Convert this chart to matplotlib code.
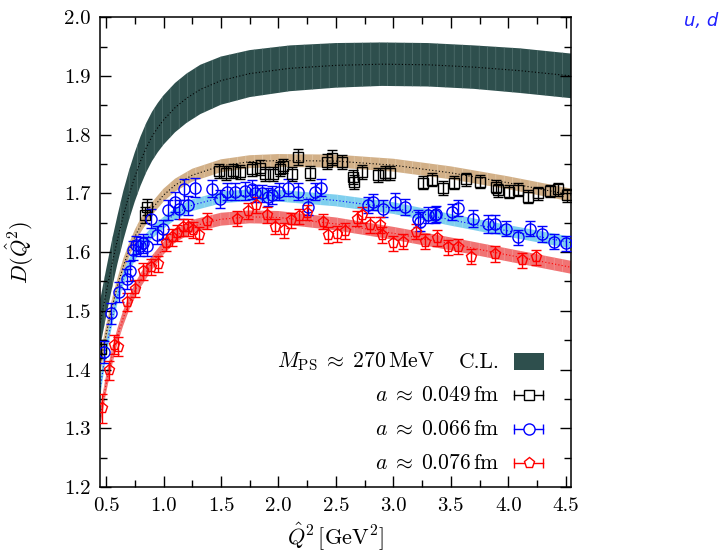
import matplotlib
matplotlib.use('Agg')
import matplotlib.pyplot as plt
import numpy as np

plt.rcParams['font.family'] = 'serif'
plt.rcParams['font.serif'] = ['cmr10']
plt.rcParams['mathtext.fontset'] = 'cm'
plt.rcParams['axes.formatter.use_mathtext'] = True
plt.rcParams['hatch.linewidth'] = 0.4

# continuum-limit band (centre and half width)
cl_q2 = [0.45, 0.50, 0.55, 0.60, 0.65, 0.70, 0.75, 0.80, 0.85, 0.90, 0.95, 1.00,
         1.10, 1.20, 1.32, 1.50, 1.75, 2.10, 2.50, 2.90, 3.30, 3.70, 4.10, 4.55]
cl_mid = [1.480, 1.530, 1.578, 1.622, 1.662, 1.697, 1.728, 1.755, 1.778, 1.797, 1.812, 1.825,
          1.846, 1.862, 1.877, 1.892, 1.904, 1.913, 1.918, 1.920, 1.919, 1.915, 1.909, 1.900]
cl_err = [0.040, 0.040, 0.041, 0.041, 0.042, 0.042, 0.042, 0.042, 0.042, 0.042, 0.042, 0.042,
          0.042, 0.042, 0.042, 0.041, 0.040, 0.039, 0.038, 0.037, 0.037, 0.037, 0.038, 0.038]

# fit bands for each lattice spacing
fit_q2 = [0.45, 0.50, 0.55, 0.60, 0.65, 0.70, 0.75, 0.80, 0.90, 1.00, 1.10, 1.25,
          1.50, 1.75, 2.00, 2.50, 3.00, 3.50, 4.00, 4.55]
fit049_mid = [1.410, 1.460, 1.505, 1.543, 1.576, 1.603, 1.626, 1.645, 1.674, 1.697, 1.714, 1.731,
              1.747, 1.754, 1.756, 1.755, 1.748, 1.735, 1.718, 1.697]
fit066_mid = [1.370, 1.435, 1.485, 1.525, 1.555, 1.578, 1.596, 1.611, 1.633, 1.650, 1.665, 1.680,
              1.693, 1.697, 1.696, 1.688, 1.675, 1.655, 1.636, 1.616]
fit076_mid = [1.320, 1.375, 1.420, 1.458, 1.488, 1.513, 1.534, 1.552, 1.582, 1.607, 1.627, 1.644,
              1.656, 1.660, 1.659, 1.648, 1.632, 1.614, 1.595, 1.574]
fit049_err = [0.016, 0.015, 0.014, 0.013, 0.013, 0.012, 0.012, 0.012, 0.011, 0.011, 0.011, 0.011,
              0.011, 0.011, 0.011, 0.011, 0.011, 0.011, 0.011, 0.011]
fit066_err = [0.015, 0.014, 0.013, 0.012, 0.012, 0.011, 0.011, 0.010, 0.010, 0.010, 0.010, 0.010,
              0.010, 0.010, 0.010, 0.010, 0.010, 0.010, 0.010, 0.010]
fit076_err = [0.016, 0.015, 0.014, 0.013, 0.013, 0.012, 0.012, 0.012, 0.012, 0.011, 0.011, 0.011,
              0.011, 0.011, 0.011, 0.011, 0.011, 0.011, 0.011, 0.011]

# a = 0.049 fm
q2_049 = [0.457, 0.84, 0.86, 1.485, 1.541, 1.607, 1.665, 1.767, 1.839, 1.883, 1.955, 2.013,
          2.042, 2.115, 2.173, 2.274, 2.419, 2.462, 2.549, 2.650, 2.660, 2.723, 2.868, 2.926,
          2.970, 3.259, 3.340, 3.433, 3.526, 3.630, 3.752, 3.897, 3.910, 4.007, 4.085, 4.172,
          4.259, 4.360, 4.433, 4.511]
d_049 = [1.435, 1.663, 1.677, 1.738, 1.735, 1.738, 1.737, 1.742, 1.744, 1.733, 1.733, 1.742,
         1.746, 1.733, 1.762, 1.735, 1.754, 1.761, 1.754, 1.728, 1.720, 1.737, 1.731, 1.734,
         1.735, 1.718, 1.723, 1.709, 1.718, 1.724, 1.720, 1.711, 1.705, 1.703, 1.706, 1.694,
         1.700, 1.704, 1.707, 1.697]
e_049 = [0.016, 0.013, 0.014, 0.012, 0.012, 0.012, 0.012, 0.012, 0.013, 0.012, 0.012, 0.012,
         0.012, 0.012, 0.013, 0.012, 0.013, 0.013, 0.012, 0.012, 0.012, 0.012, 0.012, 0.012,
         0.012, 0.011, 0.011, 0.012, 0.011, 0.011, 0.011, 0.011, 0.011, 0.011, 0.011, 0.011,
         0.011, 0.011, 0.011, 0.011]

# a = 0.066 fm
q2_066 = [0.485, 0.540, 0.616, 0.680, 0.709, 0.738, 0.761, 0.796, 0.825, 0.854, 0.889, 0.946,
          0.999, 1.042, 1.100, 1.137, 1.178, 1.216, 1.274, 1.419, 1.491, 1.549, 1.622, 1.709,
          1.767, 1.796, 1.854, 1.911, 1.940, 2.007, 2.085, 2.172, 2.259, 2.317, 2.367, 2.781,
          2.825, 2.912, 3.013, 3.100, 3.216, 3.230, 3.303, 3.361, 3.375, 3.506, 3.564, 3.694,
          3.825, 3.883, 3.984, 4.085, 4.187, 4.289, 4.396, 4.506]
d_066 = [1.430, 1.496, 1.532, 1.555, 1.568, 1.603, 1.612, 1.610, 1.615, 1.610, 1.657, 1.629,
         1.639, 1.671, 1.685, 1.673, 1.707, 1.680, 1.710, 1.708, 1.690, 1.703, 1.703, 1.704,
         1.707, 1.700, 1.700, 1.694, 1.697, 1.703, 1.710, 1.703, 1.677, 1.703, 1.710, 1.680,
         1.685, 1.674, 1.686, 1.677, 1.657, 1.652, 1.663, 1.663, 1.665, 1.668, 1.675, 1.657,
         1.648, 1.648, 1.640, 1.625, 1.640, 1.631, 1.618, 1.615]
e_066 = [0.018, 0.018, 0.017, 0.017, 0.017, 0.016, 0.016, 0.016, 0.016, 0.016, 0.016, 0.016,
         0.016, 0.017, 0.017, 0.016, 0.018, 0.016, 0.016, 0.015, 0.015, 0.015, 0.015, 0.015,
         0.016, 0.015, 0.015, 0.015, 0.015, 0.015, 0.015, 0.015, 0.014, 0.014, 0.014, 0.014,
         0.014, 0.014, 0.014, 0.014, 0.014, 0.016, 0.014, 0.014, 0.014, 0.014, 0.014, 0.014,
         0.015, 0.015, 0.013, 0.013, 0.013, 0.013, 0.013, 0.013]

# a = 0.076 fm
q2_076 = [0.463, 0.526, 0.572, 0.607, 0.680, 0.752, 0.825, 0.889, 0.955, 1.022, 1.071, 1.120,
          1.172, 1.216, 1.259, 1.311, 1.381, 1.636, 1.737, 1.803, 1.896, 1.969, 2.047, 2.106,
          2.181, 2.245, 2.384, 2.433, 2.512, 2.578, 2.680, 2.723, 2.796, 2.883, 2.897, 2.998,
          3.085, 3.196, 3.274, 3.381, 3.477, 3.564, 3.671, 3.883, 4.115, 4.239]
d_076 = [1.334, 1.399, 1.442, 1.439, 1.515, 1.538, 1.567, 1.575, 1.580, 1.616, 1.625, 1.633,
         1.642, 1.642, 1.638, 1.629, 1.653, 1.657, 1.670, 1.680, 1.663, 1.643, 1.637, 1.654,
         1.661, 1.667, 1.652, 1.629, 1.631, 1.636, 1.657, 1.663, 1.646, 1.646, 1.629, 1.615,
         1.618, 1.635, 1.618, 1.624, 1.608, 1.609, 1.592, 1.597, 1.586, 1.591]
e_076 = [0.025, 0.016, 0.016, 0.016, 0.015, 0.014, 0.014, 0.014, 0.014, 0.014, 0.014, 0.014,
         0.014, 0.014, 0.014, 0.014, 0.013, 0.013, 0.013, 0.013, 0.013, 0.013, 0.013, 0.013,
         0.013, 0.013, 0.013, 0.013, 0.013, 0.013, 0.013, 0.013, 0.013, 0.013, 0.013, 0.013,
         0.013, 0.013, 0.013, 0.013, 0.013, 0.013, 0.013, 0.013, 0.013, 0.013]

fig = plt.figure(figsize=(7.2, 5.55), dpi=100)
ax = fig.add_axes([0.139, 0.1225, 0.654, 0.8465])


def band(q2, mid, err, face, stripe, line):
    q2 = np.array(q2)
    mid = np.array(mid)
    err = np.array(err)
    ax.fill_between(q2, mid - err, mid + err, facecolor=face, edgecolor=stripe,
                    hatch='||', linewidth=0, zorder=1)
    ax.plot(q2, mid, ls=(0, (1, 2)), lw=0.8, color=line, zorder=2)


band(cl_q2, cl_mid, cl_err, '#2e4f4d', '#5d7b79', 'black')
band(fit_q2, fit049_mid, fit049_err, '#d2b088', '#e6cfb0', 'black')
band(fit_q2, fit066_mid, fit066_err, '#7fcfee', '#a8def3', 'blue')
band(fit_q2, fit076_mid, fit076_err, '#f07474', '#f6a0a0', 'red')

kw = dict(ls='none', mfc='none', mew=1.0, elinewidth=1.0, capsize=3.5, capthick=1.0, zorder=3)
ax.errorbar(q2_049, d_049, yerr=e_049, marker='s', ms=7.5, color='black', **kw)
ax.errorbar(q2_066, d_066, yerr=e_066, marker='o', ms=8, color='blue', **kw)
ax.errorbar(q2_076, d_076, yerr=e_076, marker='p', ms=8, color='red', **kw)

ax.set_xlim(0.448, 4.545)
ax.set_ylim(1.2, 2.0)
ax.set_xticks(np.arange(0.5, 4.51, 0.5))
ax.set_xticks(np.arange(0.5, 4.51, 0.25), minor=True)
ax.set_yticks(np.arange(1.2, 2.001, 0.1))
ax.set_yticks(np.arange(1.2, 2.001, 0.05), minor=True)
ax.xaxis.set_major_formatter(matplotlib.ticker.FormatStrFormatter('%.1f'))
ax.yaxis.set_major_formatter(matplotlib.ticker.FormatStrFormatter('%.1f'))
ax.tick_params(which='both', direction='in', top=True, right=True, labelsize=15, width=1.0)
ax.tick_params(which='major', length=8, pad=7)
ax.tick_params(which='minor', length=5)
for s in ax.spines.values():
    s.set_linewidth(1.1)

ax.set_xlabel(r'$\hat{Q}^2\,[\mathrm{GeV}^2]$', fontsize=16, labelpad=4)
ax.set_ylabel(r'$D(\hat{Q}^2)$', fontsize=16, labelpad=20)

# legend drawn by hand, gnuplot style
tr = ax.transAxes
ax.text(0.711, 0.266, r'$M_{\mathrm{PS}} \;\approx\; 270\,\mathrm{MeV}$', transform=tr,
        ha='right', va='center', fontsize=15.5)
ax.text(0.849, 0.266, 'C.L.', transform=tr, ha='right', va='center', fontsize=15.5)
ax.add_patch(plt.Rectangle((0.879, 0.249), 0.063, 0.037, transform=tr,
                           facecolor='#2e4f4d', edgecolor='none', clip_on=False))

rows = [(0.196, r'$a \;\approx\; 0.049\,\mathrm{fm}$', 's', 'black', 7.5),
        (0.123, r'$a \;\approx\; 0.066\,\mathrm{fm}$', 'o', 'blue', 8),
        (0.051, r'$a \;\approx\; 0.076\,\mathrm{fm}$', 'p', 'red', 8)]
for y, label, mk, col, ms in rows:
    ax.text(0.849, y, label, transform=tr, ha='right', va='center', fontsize=15.5)
    ax.plot([0.879, 0.941], [y, y], transform=tr, color=col, lw=1.0, clip_on=False)
    ax.plot([0.879, 0.941], [y, y], transform=tr, ls='none', marker='|', ms=7,
            mew=1.0, color=col, clip_on=False)
    ax.plot([0.910], [y], transform=tr, ls='none', marker=mk, ms=ms, mfc='white',
            mew=1.0, color=col, clip_on=False)

fig.text(0.997, 0.962, 'u, d', ha='right', va='center', fontsize=13,
         family='DejaVu Sans', style='italic', color='#2020ff')

fig.savefig('out.png', dpi=100)
